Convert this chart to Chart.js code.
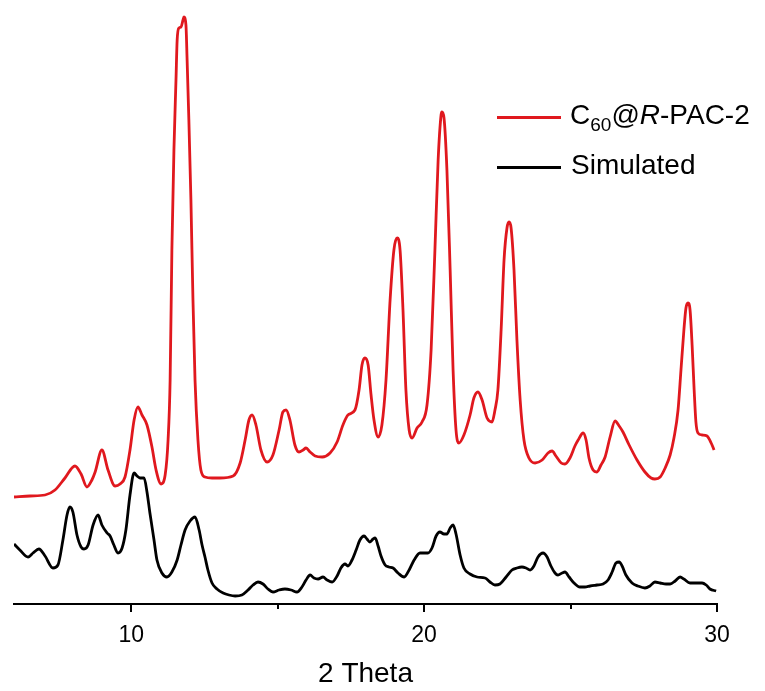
<!DOCTYPE html>
<html>
<head>
<meta charset="utf-8">
<script src="https://cdn.jsdelivr.net/npm/chart.js@4.4.1/dist/chart.umd.min.js"></script>
<style>
  body { margin: 0; background: #fff; }
  #wrap { position: relative; width: 765px; height: 691px; }
  .leg { position: absolute; font-family: "Liberation Sans", Arial, sans-serif; font-size: 28px; line-height: 28px; color: #000; white-space: nowrap; }
  .legline { position: absolute; height: 3px; }
  .sub { font-size: 19px; position: relative; top: 7px; }
</style>
</head>
<body>
<div id="wrap">
  <canvas id="mycanvas" width="765" height="691"></canvas>
  <div class="legline" style="left:497px; top:116px; width:64px; background:#e0181e;"></div>
  <div class="leg" style="left:570px; top:101px;">C<span class="sub">60</span>@<i>R</i>-PAC-2</div>
  <div class="legline" style="left:497px; top:166px; width:64px; background:#000;"></div>
  <div class="leg" style="left:571px; top:151px;">Simulated</div>
</div>
<script>
// C60@R-PAC-2 (measured), 2 theta / intensity (a.u.)
var pacX = [6.00, 6.55, 7.06, 7.40, 7.74, 8.08, 8.29, 8.49, 8.66, 8.77, 9.00, 9.21, 9.45, 9.62, 9.79, 9.96,
  10.10, 10.23, 10.37, 10.54, 10.71, 10.85, 11.02, 11.16, 11.26, 11.33, 11.39, 11.46, 11.53, 11.57, 11.63,
  11.70, 11.77, 11.80, 11.87, 11.91, 11.97, 12.04, 12.11, 12.18, 12.28, 12.38, 12.52, 12.76, 13.03, 13.48,
  13.72, 13.89, 14.02, 14.13, 14.26, 14.43, 14.64, 14.84, 15.05, 15.18, 15.29, 15.42, 15.59, 15.73, 15.87,
  15.97, 16.11, 16.28, 16.52, 16.79, 17.03, 17.23, 17.40, 17.64, 17.78, 17.88, 17.98, 18.09, 18.19, 18.29,
  18.43, 18.56, 18.70, 18.84, 18.97, 19.08, 19.18, 19.28, 19.38, 19.49, 19.59, 19.76, 19.93, 20.10, 20.24,
  20.37, 20.48, 20.58, 20.61, 20.68, 20.78, 20.89, 20.99, 21.09, 21.19, 21.36, 21.57, 21.70, 21.84, 21.98,
  22.15, 22.32, 22.42, 22.52, 22.63, 22.73, 22.83, 22.90, 22.97, 23.07, 23.17, 23.28, 23.41, 23.58, 23.79,
  24.03, 24.23, 24.37, 24.50, 24.68, 24.81, 24.98, 25.15, 25.26, 25.43, 25.53, 25.63, 25.77, 25.90, 26.04,
  26.18, 26.35, 26.52, 26.66, 26.79, 27.00, 27.27, 27.54, 27.75, 27.88, 28.06, 28.23, 28.40, 28.53, 28.67,
  28.77, 28.87, 28.94, 29.01, 29.08, 29.15, 29.22, 29.28, 29.35, 29.49, 29.66, 29.80, 29.90];
var pacY = [107, 108, 109, 114, 126, 138, 130, 117, 124, 132, 154, 134, 118, 120, 127, 154,
  184, 197, 189, 179, 157, 134, 120, 129, 164, 224, 354, 454, 524, 564, 576,
  577, 584, 587, 579, 544, 484, 404, 304, 224, 164, 134, 127, 126, 126, 128,
  141, 164, 184, 189, 179, 154, 142, 149, 174, 192, 194, 184, 159, 152, 154,
  156, 152, 148, 147, 151, 162, 179, 189, 194, 214, 239, 246, 239, 209, 184,
  167, 179, 224, 304, 354, 366, 354, 294, 214, 174, 166, 176, 182, 199, 254,
  354, 444, 489, 492, 486, 434, 334, 234, 174, 161, 169, 189, 206, 212, 204,
  186, 182, 194, 214, 274, 344, 376, 382, 376, 334, 264, 204, 164, 146, 141,
  144, 151, 153, 148, 141, 140, 146, 158, 164, 171, 164, 146, 134, 132, 139,
  147, 167, 183, 178, 172, 159, 144, 132, 126, 125, 127, 136, 149, 166, 194,
  234, 274, 296, 301, 294, 259, 214, 182, 171, 169, 168, 161, 154];

// Simulated pattern
var simX = [6.00, 6.20, 6.48, 6.65, 6.85, 7.06, 7.33, 7.50, 7.67, 7.81, 7.91, 8.01, 8.15, 8.29, 8.39, 8.53,
  8.70, 8.87, 9.00, 9.18, 9.28, 9.41, 9.55, 9.69, 9.82, 9.96, 10.10, 10.20, 10.30, 10.44, 10.54, 10.64,
  10.78, 10.88, 11.05, 11.22, 11.39, 11.57, 11.70, 11.84, 12.01, 12.18, 12.32, 12.42, 12.52, 12.62, 12.76,
  12.93, 13.14, 13.34, 13.55, 13.78, 13.99, 14.16, 14.33, 14.50, 14.67, 14.84, 15.05, 15.25, 15.46, 15.66,
  15.83, 15.97, 16.11, 16.24, 16.38, 16.55, 16.69, 16.86, 17.03, 17.16, 17.30, 17.40, 17.54, 17.68, 17.81,
  17.95, 18.05, 18.15, 18.26, 18.33, 18.43, 18.53, 18.67, 18.80, 18.94, 19.11, 19.32, 19.49, 19.66, 19.86,
  20.13, 20.27, 20.41, 20.54, 20.68, 20.78, 20.89, 20.99, 21.09, 21.23, 21.36, 21.57, 21.81, 22.08, 22.25,
  22.42, 22.59, 22.80, 23.00, 23.17, 23.34, 23.48, 23.62, 23.75, 23.89, 24.06, 24.20, 24.33, 24.47, 24.57,
  24.71, 24.81, 24.95, 25.12, 25.32, 25.49, 25.67, 25.90, 26.11, 26.28, 26.42, 26.55, 26.66, 26.76, 26.89,
  27.10, 27.30, 27.54, 27.71, 27.88, 28.06, 28.26, 28.40, 28.57, 28.74, 28.87, 29.08, 29.28, 29.49, 29.63,
  29.76, 29.97];
var simY = [60, 54, 47, 51, 55, 48, 36, 39, 64, 89, 97, 92, 69, 57, 55, 59,
  79, 89, 79, 71, 68, 59, 51, 56, 74, 109, 131, 128, 126, 126, 112, 91,
  64, 44, 31, 27, 32, 44, 59, 74, 83, 87, 74, 59, 47, 34, 21,
  15, 11, 9, 8, 9, 14, 19, 22, 20, 15, 12, 14, 15, 14, 12,
  17, 24, 29, 26, 25, 27, 24, 22, 28, 36, 40, 38, 44, 54, 64,
  68, 65, 62, 65, 66, 58, 48, 39, 37, 36, 31, 27, 34, 44, 51,
  51, 56, 68, 72, 70, 70, 76, 79, 70, 49, 36, 30, 27, 26, 22,
  19, 20, 27, 34, 36, 37, 36, 34, 38, 47, 51, 47, 38, 31, 29,
  31, 32, 27, 21, 17, 17, 18, 19, 20, 24, 32, 41, 42, 38, 29,
  21, 18, 16, 18, 22, 21, 20, 20, 23, 27, 25, 21, 21, 21, 19,
  15, 13];

var xMin = 6, xMax = 30;
var majorTicks = [10, 20, 30];
var minorTicks = [15, 25];

function toPoints(xs, ys) {
  var pts = [];
  for (var i in xs) {
    pts.push({ x: xs[i], y: ys[i] });
  }
  return pts;
}

// short minor tick marks under the axis
var minorTickPlugin = {
  id: 'minorTicks',
  afterDraw: function(chart) {
    var sx = chart.scales.x;
    var ctx = chart.ctx;
    ctx.save();
    ctx.strokeStyle = '#000';
    ctx.lineWidth = 2;
    for (var i in minorTicks) {
      var px = Math.round(sx.getPixelForValue(minorTicks[i]));
      ctx.beginPath();
      ctx.moveTo(px, sx.top);
      ctx.lineTo(px, sx.top + 5);
      ctx.stroke();
    }
    ctx.restore();
  }
};

var fontFam = '"Liberation Sans", Arial, sans-serif';

var ctx = document.getElementById('mycanvas');
var chart = new Chart(ctx, {
  type: 'line',
  data: {
    datasets: [
      {
        label: 'C60@R-PAC-2',
        data: toPoints(pacX, pacY),
        borderColor: '#e0181e',
        borderWidth: 2.8,
        pointRadius: 0,
        cubicInterpolationMode: 'monotone',
        fill: false
      },
      {
        label: 'Simulated',
        data: toPoints(simX, simY),
        borderColor: '#000000',
        borderWidth: 2.8,
        pointRadius: 0,
        cubicInterpolationMode: 'monotone',
        fill: false
      }
    ]
  },
  options: {
    responsive: false,
    animation: false,
    layout: { padding: { left: 14, right: 48, top: 4, bottom: 0 } },
    plugins: {
      legend: { display: false },
      tooltip: { enabled: false }
    },
    scales: {
      x: {
        type: 'linear',
        min: xMin,
        max: xMax,
        afterBuildTicks: function(s) {
          s.ticks = majorTicks.map(function(v) { return { value: v }; });
        },
        afterFit: function(s) { s.height = 87; },
        border: { display: true, color: '#000', width: 2 },
        grid: { drawOnChartArea: false, drawTicks: true, tickLength: 8, color: '#000', lineWidth: 2 },
        ticks: {
          color: '#000',
          padding: 10,
          maxRotation: 0,
          font: { family: fontFam, size: 23 }
        },
        title: {
          display: true,
          text: '2 Theta',
          color: '#000',
          padding: { top: 0, bottom: 0 },
          font: { family: fontFam, size: 28 }
        }
      },
      y: {
        display: false,
        min: 0,
        max: 600
      }
    }
  },
  plugins: [minorTickPlugin]
});
</script>
</body>
</html>
